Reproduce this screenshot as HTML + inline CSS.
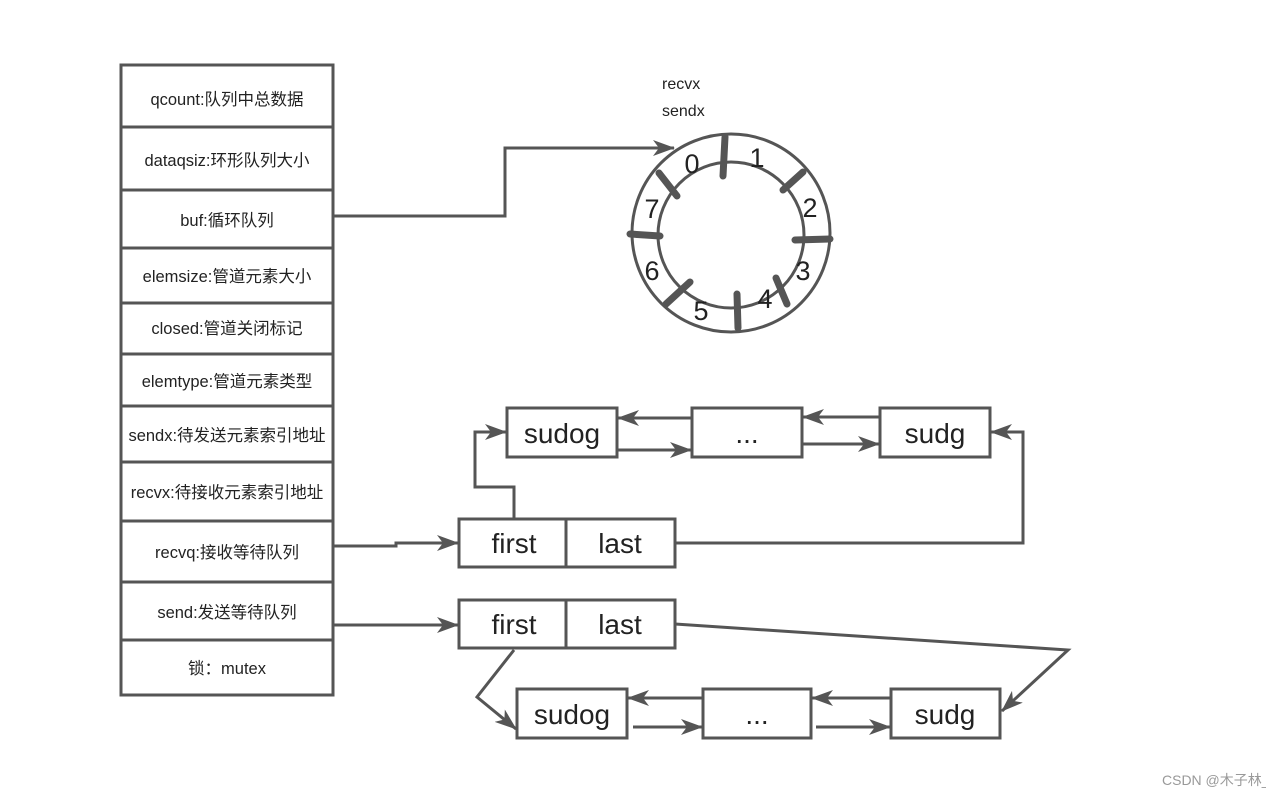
<!DOCTYPE html>
<html><head><meta charset="utf-8"><style>
html,body{margin:0;padding:0;background:#fff;}
svg{display:block}
text{font-family:"Liberation Sans","Noto Sans CJK SC",sans-serif;fill:#222}
</style></head><body>
<svg width="1266" height="798" viewBox="0 0 1266 798" xmlns="http://www.w3.org/2000/svg">
<defs>
<marker id="b" markerWidth="22" markerHeight="16" refX="21" refY="8" orient="auto" markerUnits="userSpaceOnUse" viewBox="0 0 22 16">
<path d="M0,0 L22,8 L0,16 L6,8 Z" fill="#555"/></marker>
</defs>
<g stroke="#555" stroke-width="3" fill="none">
<rect x="121" y="65" width="212" height="630"/>
<line x1="121" y1="127" x2="333" y2="127"/>
<line x1="121" y1="190" x2="333" y2="190"/>
<line x1="121" y1="248" x2="333" y2="248"/>
<line x1="121" y1="303" x2="333" y2="303"/>
<line x1="121" y1="354" x2="333" y2="354"/>
<line x1="121" y1="406" x2="333" y2="406"/>
<line x1="121" y1="462" x2="333" y2="462"/>
<line x1="121" y1="521" x2="333" y2="521"/>
<line x1="121" y1="582" x2="333" y2="582"/>
<line x1="121" y1="640" x2="333" y2="640"/>
</g>
<g font-size="16.5" text-anchor="middle">
<text x="227" y="105">qcount:队列中总数据</text>
<text x="227" y="166">dataqsiz:环形队列大小</text>
<text x="227" y="226">buf:循环队列</text>
<text x="227" y="282">elemsize:管道元素大小</text>
<text x="227" y="334">closed:管道关闭标记</text>
<text x="227" y="387">elemtype:管道元素类型</text>
<text x="227" y="441">sendx:待发送元素索引地址</text>
<text x="227" y="498">recvx:待接收元素索引地址</text>
<text x="227" y="558">recvq:接收等待队列</text>
<text x="227" y="618">send:发送等待队列</text>
<text x="227" y="674">锁：mutex</text>
</g>
<text x="662" y="89" font-size="16">recvx</text>
<text x="662" y="116" font-size="16">sendx</text>
<g stroke="#555" stroke-width="3" fill="none">
<circle cx="731" cy="233" r="99"/>
<circle cx="731" cy="235" r="73"/>
</g>
<g stroke="#555" stroke-width="7" stroke-linecap="round">
<line x1="725" y1="137" x2="723" y2="176"/>
<line x1="803" y1="172" x2="783" y2="190"/>
<line x1="830" y1="239" x2="795" y2="240"/>
<line x1="787" y1="304" x2="776" y2="278"/>
<line x1="738" y1="328" x2="737" y2="294"/>
<line x1="666" y1="304" x2="690" y2="282"/>
<line x1="630" y1="234" x2="660" y2="236"/>
<line x1="659" y1="173" x2="677" y2="196"/>
</g>
<g font-size="27" text-anchor="middle">
<text x="692" y="173">0</text><text x="757" y="167">1</text><text x="810" y="217">2</text>
<text x="803" y="280">3</text><text x="765" y="308">4</text><text x="701" y="320">5</text>
<text x="652" y="280">6</text><text x="652" y="218">7</text>
</g>
<g stroke="#555" stroke-width="3" fill="none">
<polyline points="333,216 505,216 505,148 674,148" marker-end="url(#b)"/>
<rect x="459" y="519" width="216" height="48"/><line x1="566" y1="519" x2="566" y2="567"/>
<rect x="459" y="600" width="216" height="48"/><line x1="566" y1="600" x2="566" y2="648"/>
<rect x="507" y="408" width="110" height="49"/>
<rect x="692" y="408" width="110" height="49"/>
<rect x="880" y="408" width="110" height="49"/>
<rect x="517" y="689" width="110" height="49"/>
<rect x="703" y="689" width="108" height="49"/>
<rect x="891" y="689" width="109" height="49"/>
<line x1="692" y1="418" x2="618" y2="418" marker-end="url(#b)"/>
<line x1="617" y1="450" x2="691" y2="450" marker-end="url(#b)"/>
<line x1="880" y1="417" x2="803" y2="417" marker-end="url(#b)"/>
<line x1="802" y1="444" x2="879" y2="444" marker-end="url(#b)"/>
<line x1="703" y1="698" x2="628" y2="698" marker-end="url(#b)"/>
<line x1="633" y1="727" x2="702" y2="727" marker-end="url(#b)"/>
<line x1="891" y1="698" x2="812" y2="698" marker-end="url(#b)"/>
<line x1="816" y1="727" x2="890" y2="727" marker-end="url(#b)"/>
<polyline points="333,546 396,546 396,543 458,543" marker-end="url(#b)"/>
<polyline points="514,519 514,487 475,487 475,432 506,432" marker-end="url(#b)"/>
<polyline points="675,543 1023,543 1023,432 991,432" marker-end="url(#b)"/>
<line x1="333" y1="625" x2="458" y2="625" marker-end="url(#b)"/>
<polyline points="514,650 477,697 516,729" marker-end="url(#b)"/>
<polyline points="675,624 1068,650 1002,711" marker-end="url(#b)"/>
</g>
<g font-size="28" text-anchor="middle">
<text x="514" y="553">first</text><text x="620" y="553">last</text>
<text x="514" y="634">first</text><text x="620" y="634">last</text>
<text x="562" y="443">sudog</text><text x="747" y="443">...</text><text x="935" y="443">sudg</text>
<text x="572" y="724">sudog</text><text x="757" y="724">...</text><text x="945" y="724">sudg</text>
</g>
<text x="1162" y="785" font-size="14" style="fill:#999">CSDN @木子林_</text>
</svg>
</body></html>
